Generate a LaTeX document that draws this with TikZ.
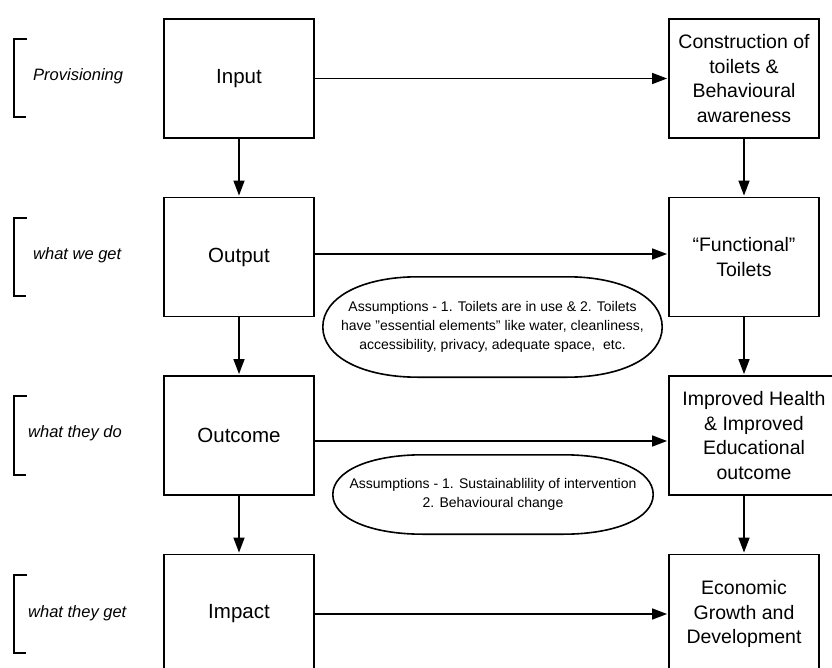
\documentclass[tikz,border=0pt]{standalone}
\usepackage{fontspec}
\setmainfont{Liberation Sans}
\usetikzlibrary{arrows.meta,positioning}

\begin{document}
\begin{tikzpicture}[x=1pt,y=-1pt,shorten >=1pt,node distance=178.5pt and 505pt,on grid,auto,
    >={Triangle[length=15pt,width=11pt]},
    stage/.style={draw,line width=1.8pt,minimum width=150pt,minimum height=119pt,inner sep=0pt,
      align=center,font=\fontsize{20.5}{24}\selectfont},
    result/.style={stage,font=\fontsize{19.5}{24.5}\selectfont},
    phase/.style={anchor=west,inner sep=0pt,font=\fontsize{16.5}{20}\selectfont\itshape},
    assume/.style={minimum width=339pt,minimum height=100pt,inner sep=0pt,align=center,
      font=\fontsize{14}{18.8}\selectfont},
    rim/.style={line width=1.6pt},
    bracket/.style={line width=1.8pt},
    link/.style={->,line width=1.5pt}]
   \useasboundingbox (0,0) rectangle (832,668);

   % left column
   \node [stage] (input)  at (239,78.5) {Input};
   \node [stage] (output)  [below=of input] {Output};
   \node [stage] (outcome) [below=of output] {Outcome};
   \node [stage] (impact)  [below=of outcome] {Impact};

   % right column
   \node [result] (constr) [right=of input] {Construction of\\toilets \&\\Behavioural\\awareness};
   \node [result] (functional) [right=of output] {``Functional''\\Toilets};
   \node [result,minimum width=170pt,xshift=10pt] (improved) [right=of outcome] {Improved Health\\\& Improved\\Educational\\outcome};
   \node [result] (economic) [right=of impact] {Economic\\Growth and\\Development};

   % phases
   \node [phase] (prov) at (33,76) {Provisioning};
   \node [phase] (weget) at (33,255) {what we get};
   \node [phase] (theydo) at (28,433) {what they do};
   \node [phase] (theyget) at (28,613) {what they get};
   \draw [bracket] (27,39) -- (14,39) -- (14,117) -- (27,117);
   \draw [bracket] (27,218) -- (14,218) -- (14,296) -- (27,296);
   \draw [bracket] (27,396) -- (14,396) -- (14,475) -- (27,475);
   \draw [bracket] (27,575) -- (14,575) -- (14,653) -- (27,653);

   % assumptions
   \node [assume] (asm1) at (492.5,327) {Assumptions - 1. Toilets are in use \& 2. Toilets\\have "essential elements" like water, cleanliness,\\accessibility, privacy, adequate space,\ \ etc.};
   \node [assume,minimum width=320pt,minimum height=79pt] (asm2) at (493,494.5) {Assumptions - 1. Sustainablility of intervention\\2. Behavioural change};
   \draw [rim] (asm1.west) .. controls ([yshift=30pt]asm1.west) and ([xshift=40pt]asm1.north west) .. ([xshift=95pt]asm1.north west)
     -- ([xshift=-95pt]asm1.north east) .. controls ([xshift=-40pt]asm1.north east) and ([yshift=30pt]asm1.east) .. (asm1.east)
     .. controls ([yshift=-30pt]asm1.east) and ([xshift=-40pt]asm1.south east) .. ([xshift=-95pt]asm1.south east)
     -- ([xshift=95pt]asm1.south west) .. controls ([xshift=40pt]asm1.south west) and ([yshift=-30pt]asm1.west) .. cycle;
   \draw [rim] (asm2.west) .. controls ([yshift=24pt]asm2.west) and ([xshift=38pt]asm2.north west) .. ([xshift=90pt]asm2.north west)
     -- ([xshift=-90pt]asm2.north east) .. controls ([xshift=-38pt]asm2.north east) and ([yshift=24pt]asm2.east) .. (asm2.east)
     .. controls ([yshift=-24pt]asm2.east) and ([xshift=-38pt]asm2.south east) .. ([xshift=-90pt]asm2.south east)
     -- ([xshift=90pt]asm2.south west) .. controls ([xshift=38pt]asm2.south west) and ([yshift=-24pt]asm2.west) .. cycle;

   \path [link]
    (input) edge (constr)
            edge (output)
    (output) edge (outcome)
    (outcome) edge (impact)
    ([yshift=3pt]output.east) edge ([yshift=3pt]functional.west)
    ([yshift=-5.5pt]outcome.east) edge ([yshift=-5.5pt]improved.west)
    (impact) edge (economic)
    (constr) edge (functional)
    (functional.south) edge (functional.south |- improved.north)
    (economic.north |- improved.south) edge (economic.north);
\end{tikzpicture}
\end{document}
